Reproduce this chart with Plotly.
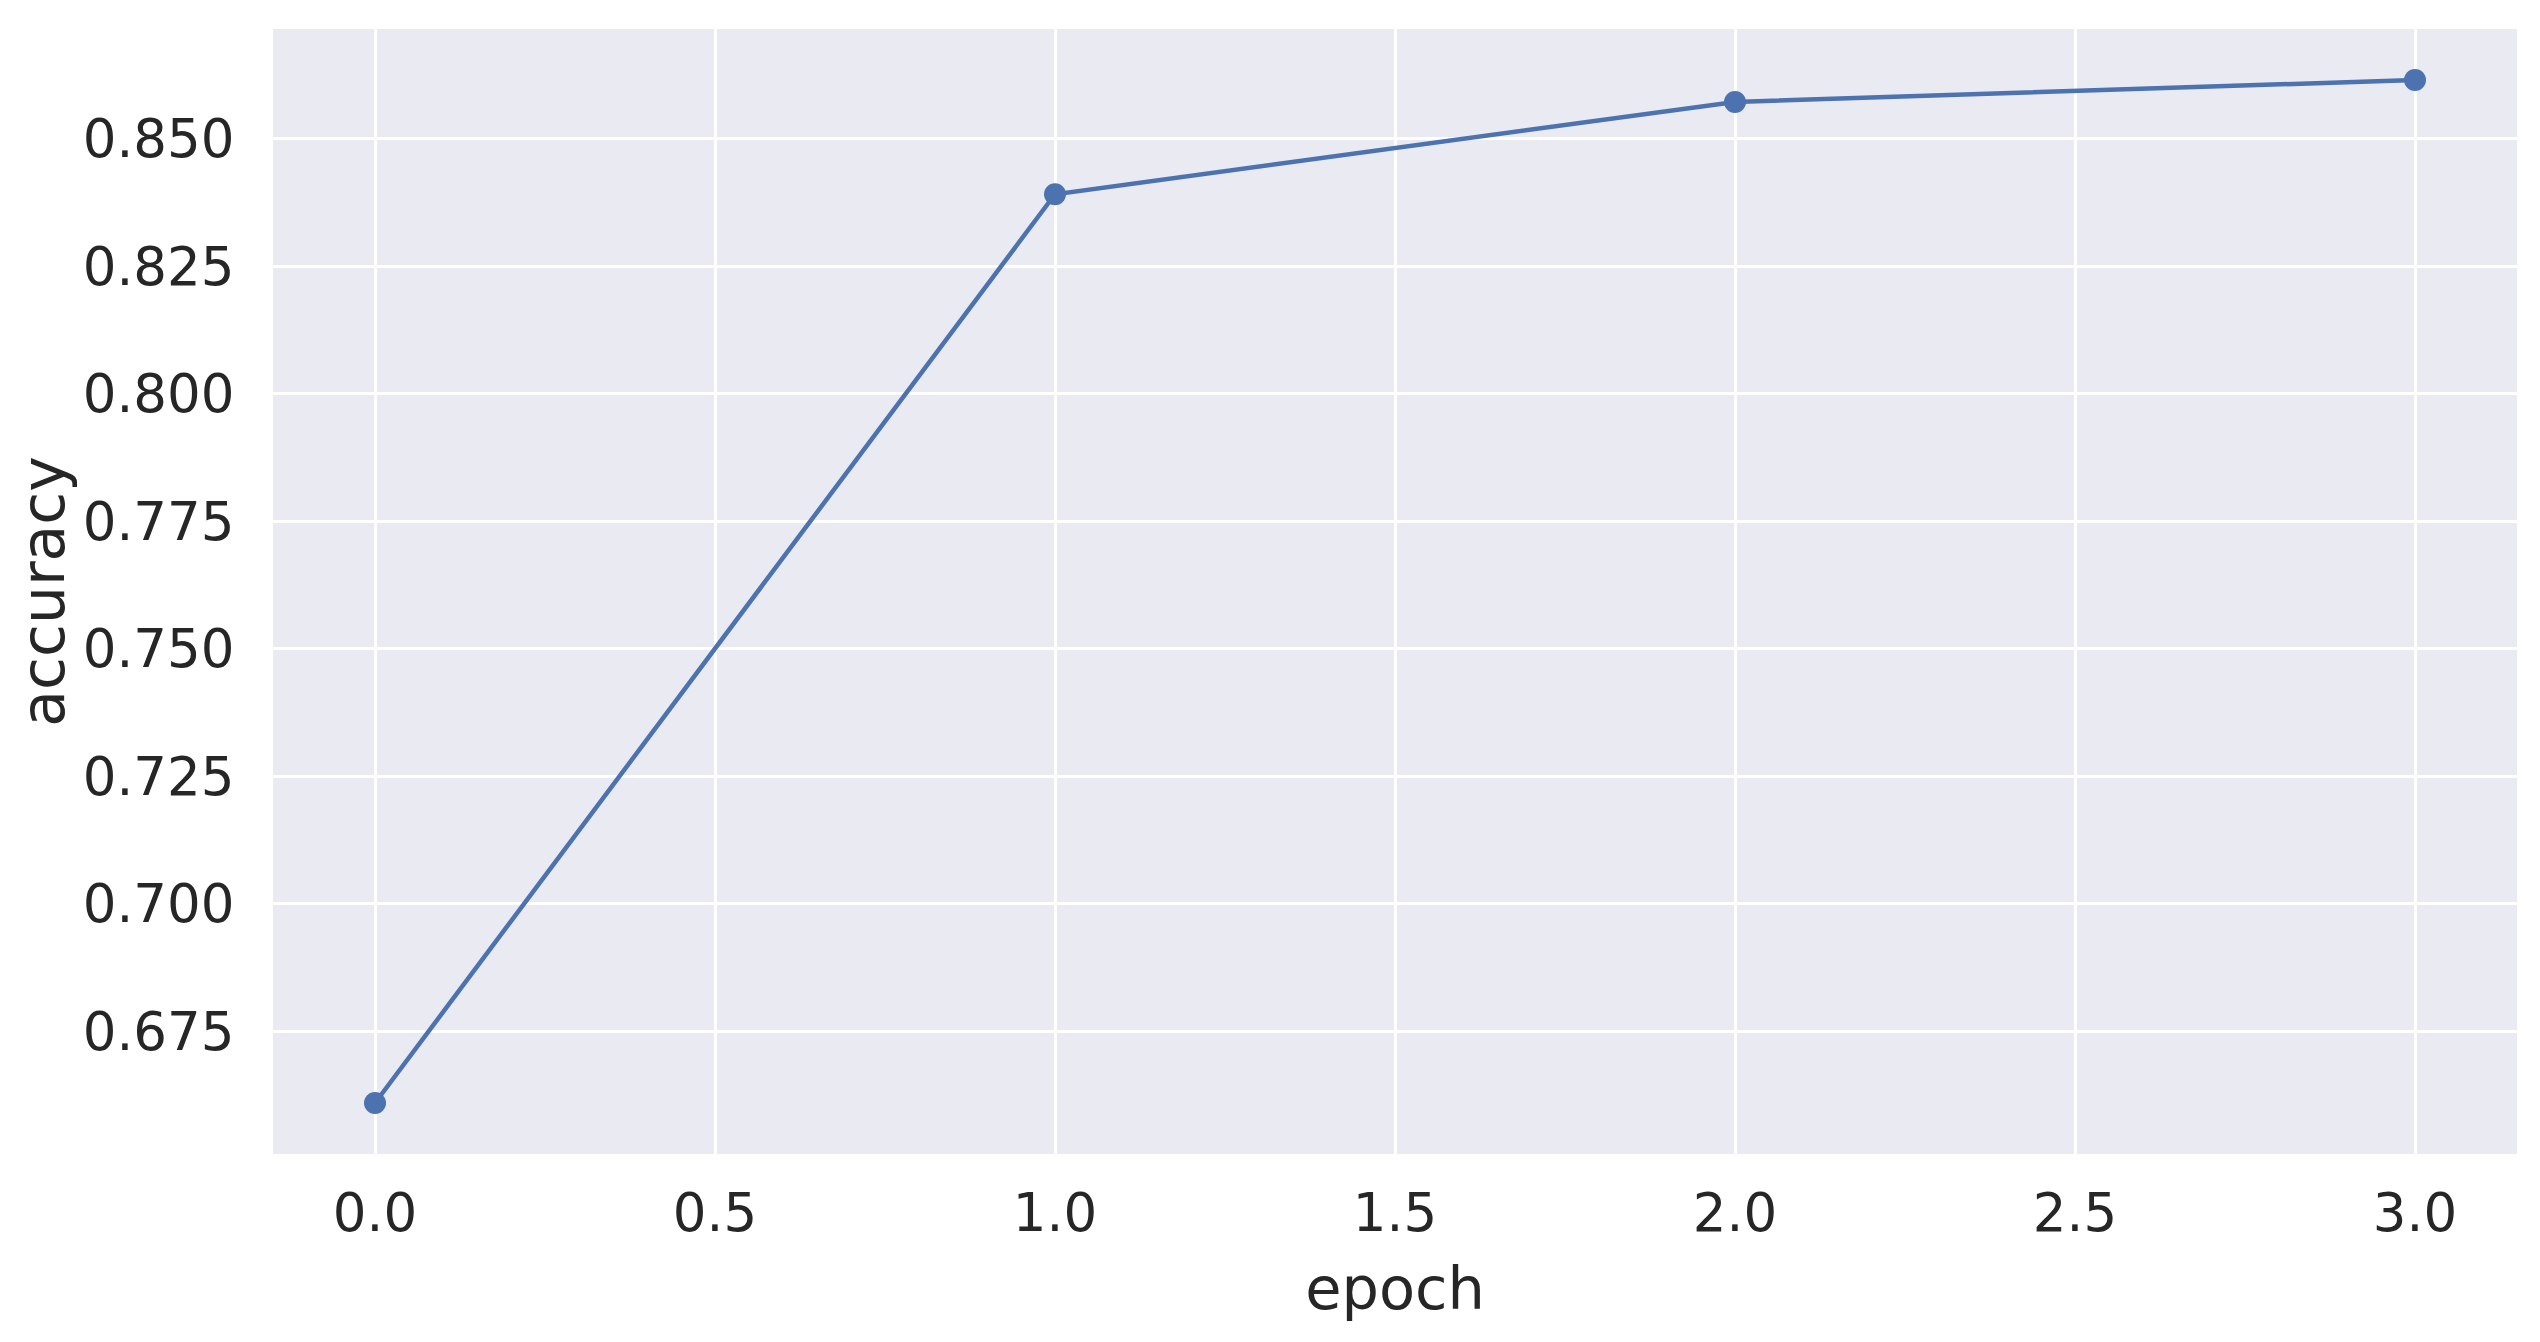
import plotly.graph_objects as go

epochs = [0, 1, 2, 3]
accuracy = [0.6609, 0.8391, 0.8572, 0.8615]

x_ticks = [0.0, 0.5, 1.0, 1.5, 2.0, 2.5, 3.0]
y_ticks = [0.675, 0.700, 0.725, 0.750, 0.775, 0.800, 0.825, 0.850]

font_family = "DejaVu Sans"
text_color = "#262626"

fig = go.Figure()
fig.add_trace(go.Scatter(
    x=epochs, y=accuracy, mode="lines+markers",
    line=dict(color="#4C72B0", width=4.5),
    marker=dict(color="#4C72B0", size=22),
    showlegend=False,
))

fig.update_layout(
    width=2540, height=1342,
    margin=dict(l=265, r=31, t=21, b=196, autoexpand=False),
    paper_bgcolor="white",
    plot_bgcolor="#EAEAF2",
    font=dict(family=font_family, color=text_color, size=53),
)
fig.update_xaxes(
    range=[-0.15, 3.15], automargin=False,
    tickvals=x_ticks, ticktext=[f"{v:.1f}" for v in x_ticks],
    showgrid=True, gridcolor="white", gridwidth=3,
    zeroline=False, showline=False,
    ticks="outside", ticklen=12, tickcolor="rgba(0,0,0,0)",
    tickfont=dict(size=53),
    title=dict(text="epoch", font=dict(size=59), standoff=26),
)
fig.update_yaxes(
    range=[0.6509, 0.8715], automargin=False,
    tickvals=y_ticks, ticktext=[f"{v:.3f}" for v in y_ticks],
    showgrid=True, gridcolor="white", gridwidth=3,
    zeroline=False, showline=False,
    ticks="outside", ticklen=27, tickcolor="rgba(0,0,0,0)",
    tickfont=dict(size=53),
    title=dict(text="accuracy", font=dict(size=60), standoff=55),
)

fig.write_html("out.html")
